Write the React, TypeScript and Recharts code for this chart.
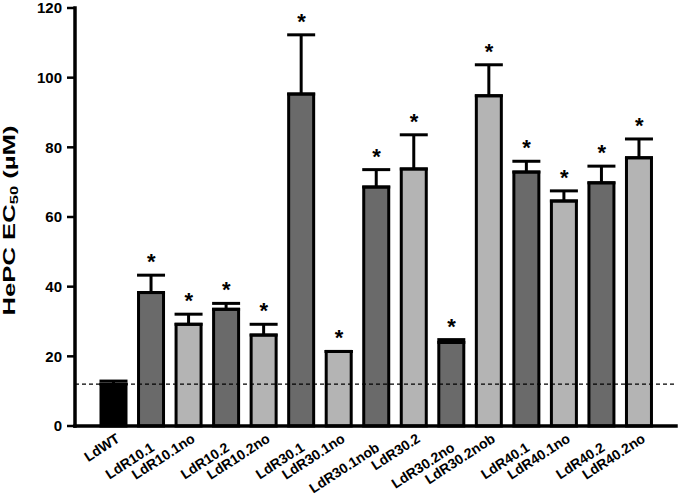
import React from 'react';
import { ComposedChart, Bar, Line, XAxis, YAxis, ErrorBar, ReferenceLine, Cell, Label } from 'recharts';

const categories = ['LdWT', 'LdR10.1', 'LdR10.1no', 'LdR10.2', 'LdR10.2no', 'LdR30.1', 'LdR30.1no', 'LdR30.1nob', 'LdR30.2', 'LdR30.2no', 'LdR30.2nob', 'LdR40.1', 'LdR40.1no', 'LdR40.2', 'LdR40.2no'];
const ec50 = [12.0, 38.3, 29.2, 33.5, 26.1, 95.3, 21.4, 68.6, 73.8, 24.0, 94.8, 72.9, 64.6, 69.8, 77.0];
const sem = [0.9, 5.0, 2.9, 1.7, 3.1, 17.0, 0, 5.0, 9.8, 0.8, 8.9, 3.1, 2.9, 4.8, 5.4];
const significant = [false, true, true, true, true, true, true, true, true, true, true, true, true, true, true];
const groupType = ['wt', 'dark', 'light', 'dark', 'light', 'dark', 'light', 'dark', 'light', 'dark', 'light', 'dark', 'light', 'dark', 'light'];
const yTicks = [0, 20, 40, 60, 80, 100, 120];
const wtLevel = 12;

const FILL: Record<string, string> = { wt: '#000000', dark: '#6a6a6a', light: '#b4b4b4' };
const FONT = 'Arial, "Liberation Sans", Helvetica, sans-serif';

const data = categories.map((name, i) => ({
  name,
  ec50: ec50[i],
  err: [0, sem[i]],
  top: ec50[i] + sem[i],
  sig: significant[i],
  kind: groupType[i],
}));

const renderXTick = (props: any) => {
  const { x, y, payload } = props;
  const i = categories.indexOf(payload.value);
  const odd = i % 2 === 1;
  const dx = odd ? 4 : 7;
  const dy = odd ? 24 : 15;
  return (
    <g transform={`translate(${x + dx},${y + dy})`}>
      <text
        x={0}
        y={0}
        transform="rotate(-33)"
        textAnchor="end"
        fontFamily={FONT}
        fontWeight="bold"
        fontSize={14}
        fill="#000"
      >
        {payload.value}
      </text>
    </g>
  );
};

const renderStar = (props: any) => {
  const { cx, cy, payload, index } = props;
  if (!payload || !payload.sig || cx == null || cy == null) return <g key={`s${index}`} />;
  return (
    <text key={`s${index}`} x={cx} y={cy - 6} textAnchor="middle" fontFamily={FONT} fontWeight="bold" fontSize={22} fill="#000">
      *
    </text>
  );
};

const YTitle = (props: any) => {
  const vb = props.viewBox || { x: 0, y: 7, width: 75, height: 419 };
  const cx = 15;
  const cy = vb.y + vb.height / 2 + 3.5;
  return (
    <text
      x={cx}
      y={cy}
      transform={`rotate(-90, ${cx}, ${cy})`}
      textAnchor="middle"
      fontFamily={FONT}
      fontWeight="bold"
      fontSize={17}
      fill="#000"
      textLength={190}
      lengthAdjust="spacingAndGlyphs"
    >
      <tspan>HePC EC</tspan>
      <tspan fontSize={11} dy={3}>50</tspan>
      <tspan dy={-3}> (µM)</tspan>
    </text>
  );
};

export default function App() {
  return (
    <div style={{ position: 'absolute', left: 0, top: 0, width: 680, height: 497, background: '#fff' }}>
      <ComposedChart width={680} height={497} data={data} margin={{ top: 8, right: 4, bottom: 0, left: 0 }}>
        <XAxis
          dataKey="name"
          interval={0}
          height={71}
          tickLine={false}
          tickSize={0}
          tickMargin={0}
          padding={{ left: 20, right: 18 }}
          axisLine={{ stroke: '#000', strokeWidth: 3.5, strokeLinecap: 'square' }}
          tick={renderXTick}
        />
        <YAxis
          width={75}
          domain={[0, 120]}
          ticks={yTicks}
          interval={0}
          tickSize={8}
          tickMargin={5}
          axisLine={{ stroke: '#000', strokeWidth: 3.5, strokeLinecap: 'square' }}
          tickLine={{ stroke: '#000', strokeWidth: 2.5 }}
          tick={{ fontFamily: FONT, fontWeight: 'bold', fontSize: 15, fill: '#000' }}
        >
          <Label content={<YTitle />} />
        </YAxis>
        <Bar dataKey="ec50" barSize={25} stroke="#000" strokeWidth={3} isAnimationActive={false}>
          {data.map((d, i) => (
            <Cell key={i} fill={FILL[d.kind]} />
          ))}
          <ErrorBar dataKey="err" direction="y" width={14} stroke="#000" strokeWidth={3} isAnimationActive={false} />
        </Bar>
        <ReferenceLine y={wtLevel} stroke="#000" strokeWidth={1.2} strokeDasharray="4 3" />
        <Line
          dataKey="top"
          stroke="none"
          dot={renderStar}
          activeDot={false}
          legendType="none"
          isAnimationActive={false}
        />
      </ComposedChart>
    </div>
  );
}
